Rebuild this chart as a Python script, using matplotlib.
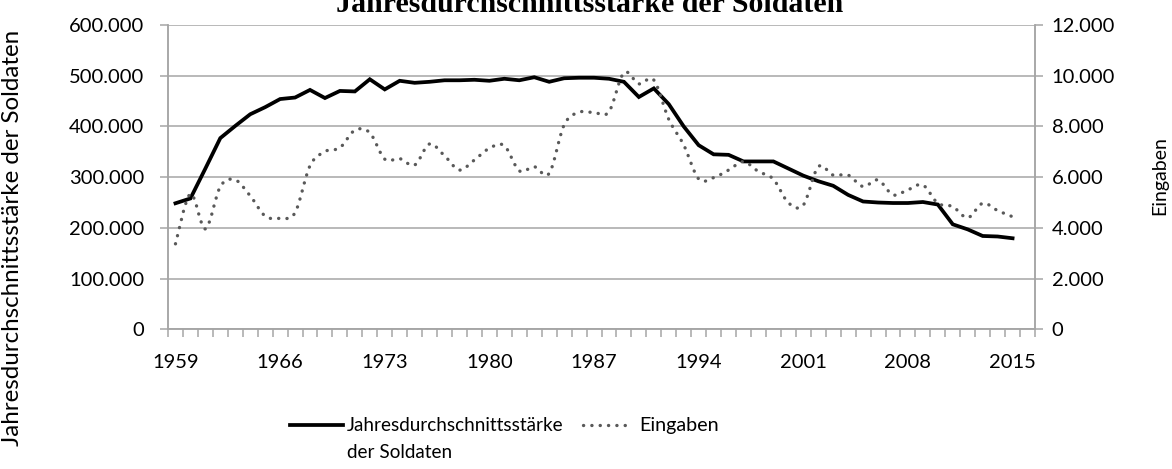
import matplotlib
matplotlib.use('Agg')
import matplotlib.pyplot as plt
import matplotlib.patches as mpatches
from matplotlib.path import Path
from matplotlib.lines import Line2D
from matplotlib.ticker import FuncFormatter, FixedLocator

# ── Daten ──────────────────────────────────────────────────
years = list(range(1959, 2016))
staerke = [
    248500, 258000, 317000, 377000, 401000, 424000, 438000, 454000, 457000, 472000,
    456000, 470000, 469000, 493000, 473000, 490000, 486000, 488000, 491000, 491000,
    492000, 490000, 494000, 491000, 497000, 488000, 495000, 496000, 496000, 494000,
    488000, 458000, 475000, 444000, 400000, 363000, 345000, 344000, 331000, 331000,
    331000, 317000, 303000, 292000, 283000, 265000, 252000, 250000, 249000, 249000,
    251000, 246000, 207000, 197000, 184000, 183000, 179500,
]
eingaben = [
    3370, 5340, 3960, 5630, 5890, 5260, 4470, 4380, 4600, 6450,
    7010, 7160, 7850, 7750, 6710, 6730, 6480, 7310, 6840, 6280,
    6680, 7140, 7240, 6250, 6410, 6150, 8060, 8560, 8550, 8580,
    10120, 9680, 9830, 8280, 7270, 5930, 5980, 6280, 6610, 6220,
    5920, 4990, 4900, 6410, 6080, 6080, 5630, 5890, 5300, 5500,
    5690, 4970, 4840, 4400, 4970, 4680, 4440,
]
y1_ticks = [0, 100000, 200000, 300000, 400000, 500000, 600000]
y2_ticks = [0, 2000, 4000, 6000, 8000, 10000, 12000]

GRID = '#A6A6A6'
DOT = '#595959'
TFONT = ['Lato', 'DejaVu Sans']
W, H = 1172, 469

def de_fmt(v, pos=None):
    return f'{int(round(v)):,}'.replace(',', '.')

fig = plt.figure(figsize=(W / 100, H / 100), dpi=100, facecolor='white')
ax = fig.add_axes([168 / W, 1 - 329.3 / H, 867 / W, 304.3 / H])
ax2 = ax.twinx()

xs = list(range(len(years)))
ax.set_xlim(-0.5, len(years) + 0.5)
ax.set_ylim(0, 600000)
ax2.set_ylim(0, 12000)

# Gitter
ax.set_yticks(y1_ticks)
ax.yaxis.grid(True, color=GRID, lw=1.1)
ax.set_axisbelow(True)
for a in (ax, ax2):
    a.spines['top'].set_visible(False)
    for s in ['left', 'right', 'bottom']:
        a.spines[s].set_color(GRID)
        a.spines[s].set_linewidth(1.1)

# x-Achse: Striche an Kategoriegrenzen, Beschriftung alle 7 Jahre
ax.xaxis.set_major_locator(FixedLocator(xs[::7]))
ax.set_xticklabels([str(y) for y in years[::7]])
ax.xaxis.set_minor_locator(FixedLocator([i - 0.5 for i in range(len(years) + 2)]))
ax.tick_params(axis='x', which='major', length=0, pad=18, labelsize=14.5)
ax.tick_params(axis='x', which='minor', length=6, width=1.1, color=GRID, direction='out')
ax.tick_params(axis='y', length=6, width=1.1, color=GRID, labelsize=14.5, pad=11)
ax2.set_yticks(y2_ticks)
ax2.tick_params(axis='y', length=6, width=1.1, color=GRID, labelsize=14.5, pad=6)
ax.yaxis.set_major_formatter(FuncFormatter(de_fmt))
ax2.yaxis.set_major_formatter(FuncFormatter(de_fmt))
for lab in ax.get_xticklabels() + ax.get_yticklabels() + ax2.get_yticklabels():
    lab.set_family(TFONT)

# Linie Jahresdurchschnittsstärke
ax.plot(xs, staerke, color='black', lw=2.7, solid_joinstyle='miter', zorder=4)

# Eingaben: geglättete Linie (Bezier wie Excel "Linie glätten")
def smooth_path(x, y):
    verts = [(x[0], y[0])]
    codes = [Path.MOVETO]
    n = len(x)
    for i in range(n - 1):
        x0, y0 = (x[i - 1], y[i - 1]) if i > 0 else (x[i], y[i])
        x3, y3 = (x[i + 2], y[i + 2]) if i + 2 < n else (x[i + 1], y[i + 1])
        c1 = (x[i] + (x[i + 1] - x0) / 6, y[i] + (y[i + 1] - y0) / 6)
        c2 = (x[i + 1] - (x3 - x[i]) / 6, y[i + 1] - (y3 - y[i]) / 6)
        verts += [c1, c2, (x[i + 1], y[i + 1])]
        codes += [Path.CURVE4] * 3
    return Path(verts, codes)

pp = mpatches.PathPatch(smooth_path(xs, eingaben), fill=False, edgecolor=DOT,
                        lw=2.4, linestyle=(0, (0.05, 2.45)), capstyle='round', zorder=3)
ax2.add_patch(pp)

# Achsentitel
fig.text(13 / W, 1 - 238 / H, 'Jahresdurchschnittsstärke der Soldaten', rotation=90,
         ha='center', va='center', family=TFONT, fontsize=17.4)
fig.text(1160 / W, 1 - 176 / H, 'Eingaben', rotation=90, ha='center', va='center',
         family=TFONT, fontsize=14)

# Titel (oben abgeschnitten wie im Original)
fig.text(590 / W, 1 - 12 / H, 'Jahresdurchschnittsstärke der Soldaten',
         ha='center', va='baseline', family=['Liberation Serif', 'DejaVu Serif'],
         fontweight='bold', fontsize=21.5)

# Legende
ly = 1 - 425 / H
fig.add_artist(Line2D([290 / W, 343 / W], [ly, ly], color='black', lw=2.7,
                      transform=fig.transFigure))
fig.text(347 / W, ly, 'Jahresdurchschnittsstärke', ha='left', va='center',
         family=TFONT, fontsize=13.6)
fig.text(347 / W, 1 - 452 / H, 'der Soldaten', ha='left', va='center',
         family=TFONT, fontsize=13.6)
fig.add_artist(Line2D([583 / W, 633 / W], [ly, ly], color=DOT, lw=2.4,
                      linestyle=(0, (0.05, 2.45)), dash_capstyle='round',
                      transform=fig.transFigure))
fig.text(639 / W, ly, 'Eingaben', ha='left', va='center', family=TFONT, fontsize=14.2)

fig.savefig('out.png', dpi=100, facecolor='white')
